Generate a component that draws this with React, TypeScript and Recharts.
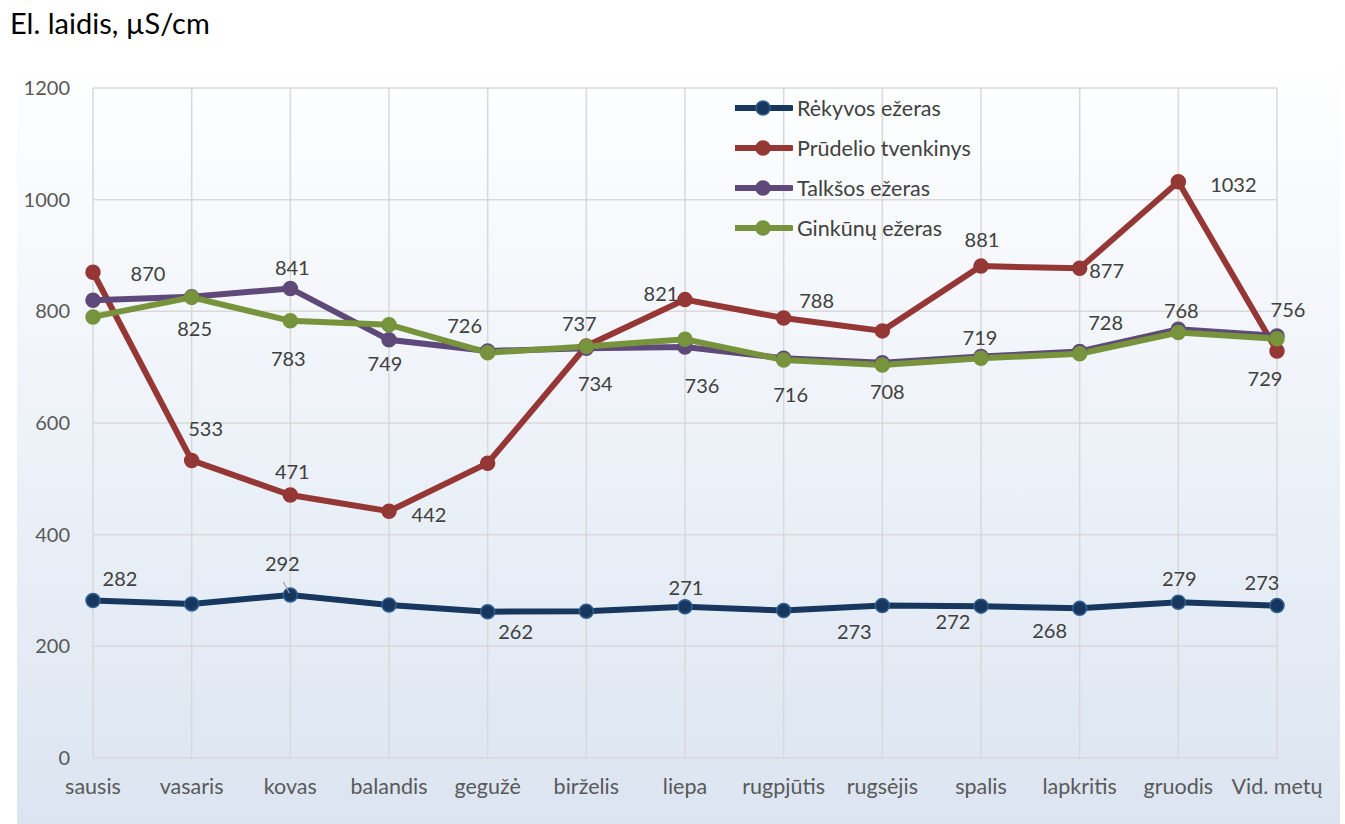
import { CartesianGrid, LabelList, Line, LineChart, XAxis, YAxis } from "recharts";

const months = [
  "sausis", "vasaris", "kovas", "balandis", "gegužė", "birželis", "liepa",
  "rugpjūtis", "rugsėjis", "spalis", "lapkritis", "gruodis", "Vid. metų",
];

const rekyvos = [282, 276, 292, 274, 262, 263, 271, 264, 273, 272, 268, 279, 273];
const prudelio = [870, 533, 471, 442, 528, 738, 821, 788, 765, 881, 877, 1032, 729];
const talksos = [820, 826, 841, 749, 729, 734, 736, 716, 708, 719, 728, 768, 756];
const ginkunu = [790, 825, 783, 776, 726, 737, 750, 713, 704, 716, 724, 762, 751];

const yTicks = [0, 200, 400, 600, 800, 1000, 1200];

const series = [
  { key: "rekyvos", name: "Rėkyvos ežeras", color: "#17375e", dotStroke: "#2f5f93", values: rekyvos },
  { key: "prudelio", name: "Prūdelio tvenkinys", color: "#953735", dotStroke: "#953735", values: prudelio },
  { key: "talksos", name: "Talkšos ežeras", color: "#5f497a", dotStroke: "#5f497a", values: talksos },
  { key: "ginkunu", name: "Ginkūnų ežeras", color: "#77933c", dotStroke: "#77933c", values: ginkunu },
];

// where each data label sits relative to its point (null = no label), like the dragged Excel labels
const labelOffsets: Record<string, ([number, number] | null)[]> = {
  rekyvos: [[27, -23], null, [-8, -32], null, [28, 19], null, [1, -20], null, [-28, 25], [-28, 15], [-30, 22], [1, -24], [-15, -24]],
  prudelio: [[55, 1], [14, -32], [2, -24], [40, 3], null, null, [-24, -7], [33, -18], null, [1, -27], [27, 2], [55, 2], [-12, 27]],
  talksos: [null, null, [2, -21], [-4, 23], null, [9, 35], [17, 38], [7, 36], [5, 28], [-1, -20], [26, -30], [3, -19], [11, -27]],
  ginkunu: [null, [3, 31], [-2, 37], null, [-23, -28], [-7, -24], null, null, null, null, null, null, null],
};

const data = months.map((m, i) => {
  const row: any = { month: m };
  series.forEach((s) => {
    row[s.key] = s.values[i];
  });
  return row;
});

const FONT = "Lato, 'Open Sans', sans-serif";

function makeLabel(key: string) {
  return (p: any) => {
    const off = labelOffsets[key][p.index];
    if (!off || p.x == null || p.y == null) return null;
    const tx = p.x + off[0];
    const ty = p.y + off[1];
    return (
      <g>
        {/* leader line for the dragged 292 label */}
        {key === "rekyvos" && p.index === 2 && (
          <line x1={p.x - 7} y1={p.y - 13} x2={p.x - 1} y2={p.y - 2} stroke="#a6a6a6" strokeWidth={1.2} />
        )}
        <text x={tx} y={ty} textAnchor="middle" dominantBaseline="central" fontSize={20} fill="#404040" fontFamily={FONT}>
          {p.value}
        </text>
      </g>
    );
  };
}

function LegendBox() {
  return (
    <div style={{ position: "absolute", left: 735, top: 88, fontFamily: FONT, fontSize: 21.5, color: "#404040" }}>
      {series.map((s) => (
        <div key={s.key} style={{ display: "flex", alignItems: "center", height: 40 }}>
          <svg width={58} height={20} style={{ marginRight: 4 }}>
            <line x1={1} y1={10} x2={56} y2={10} stroke={s.color} strokeWidth={6} strokeLinecap="round" />
            <circle cx={28} cy={10} r={7} fill={s.color} stroke={s.dotStroke} strokeWidth={1.5} />
          </svg>
          <span>{s.name}</span>
        </div>
      ))}
    </div>
  );
}

export default function App() {
  return (
    <div style={{ position: "absolute", left: 0, top: 0, width: 1345, height: 824, background: "#fff", fontFamily: FONT }}>
      <div
        style={{
          position: "absolute",
          left: 17,
          top: 50,
          width: 1323,
          height: 774,
          background: "linear-gradient(to bottom, #ffffff 0%, #f3f6fb 35%, #e6edf6 70%, #dbe4f0 100%)",
        }}
      />
      <div style={{ position: "absolute", left: 10, top: 5, fontSize: 29, color: "#000" }}>El. laidis, µS/cm</div>
      <div style={{ position: "absolute", left: 0, top: 0 }}>
        <LineChart width={1345} height={824} data={data} margin={{ top: 88, right: 68, bottom: 36, left: 33 }}>
          <CartesianGrid stroke="#d9d9d9" strokeWidth={1.5} />
          <XAxis
            dataKey="month"
            interval={0}
            padding={{ left: 0, right: 0 }}
            axisLine={false}
            tickLine={false}
            tickSize={0}
            tickMargin={21}
            height={30}
            tick={{ fontSize: 21.5, fill: "#595959", fontFamily: FONT }}
          />
          <YAxis
            domain={[0, 1200]}
            ticks={yTicks}
            interval={0}
            axisLine={false}
            tickLine={false}
            tickSize={0}
            tickMargin={23}
            width={60}
            tick={{ fontSize: 20, fill: "#595959", fontFamily: FONT }}
          />
          {series.map((s) => (
            <Line
              key={s.key}
              dataKey={s.key}
              name={s.name}
              stroke={s.color}
              strokeWidth={6}
              dot={{ r: 7, fill: s.color, stroke: s.dotStroke, strokeWidth: 1.5 }}
              activeDot={false}
              isAnimationActive={false}
            >
              <LabelList dataKey={s.key} content={makeLabel(s.key)} />
            </Line>
          ))}
        </LineChart>
      </div>
      <LegendBox />
    </div>
  );
}
